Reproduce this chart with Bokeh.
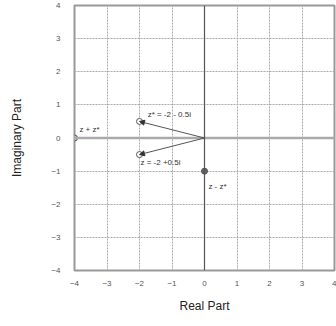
from bokeh.plotting import figure
from bokeh.models import Arrow, NormalHead, Span, ColumnDataSource, FixedTicker
from bokeh.core.properties import value
from bokeh.embed import file_html
from bokeh.resources import INLINE

# data
pt_x = [-2, -2, -4, 0]
pt_y = [0.5, -0.5, 0, -1]
pt_fill = ["white", "white", "#bbbbbb", "#666666"]
labels = ["z* = -2 - 0.5i", "z = -2 +0.5i", "z + z*", "z - z*"]
lab_x = [-1.75, -1.97, -3.85, 0.12]
lab_y = [0.72, -0.74, 0.25, -1.47]
arrow_ends = [(-2, 0.5), (-2, -0.5)]
ticks = [-4, -3, -2, -1, 0, 1, 2, 3, 4]

p = figure(frame_width=260, frame_height=265, x_range=(-4, 4), y_range=(-4, 4),
           output_backend="svg", toolbar_location=None,
           min_border_left=74, min_border_right=2, min_border_top=5, min_border_bottom=56,
           background_fill_color="white", border_fill_color="white")
p.outline_line_color = "#999999"
p.outline_line_width = 2

for ax in (p.xaxis, p.yaxis):
    ax.ticker = FixedTicker(ticks=ticks)
    ax.axis_line_color = None
    ax.major_tick_line_color = None
    ax.minor_tick_line_color = None
    ax.major_label_text_font = "Liberation Sans"
    ax.major_label_text_font_size = "8px"
    ax.major_label_text_color = "#555555"
    ax.axis_label_text_font = "Liberation Sans"
    ax.axis_label_text_font_size = "12px"
    ax.axis_label_text_font_style = "normal"
    ax.axis_label_text_color = "#222222"

p.xaxis.axis_label = "Real Part"
p.yaxis.axis_label = "Imaginary Part"
p.xaxis.major_label_standoff = 4
p.yaxis.major_label_standoff = 8
p.xaxis.axis_label_standoff = 10
p.yaxis.axis_label_standoff = 24

p.grid.grid_line_color = "#aaaaaa"
p.grid.grid_line_dash = "2 1"
p.grid.grid_line_width = 1

p.add_layout(Span(location=0, dimension="width", line_color="#aaaaaa", line_width=2.5))
p.add_layout(Span(location=0, dimension="height", line_color="#555555", line_width=1.2))

for (ex, ey) in arrow_ends:
    p.add_layout(Arrow(end=NormalHead(size=5, fill_color="#333333", line_color="#333333"),
                       x_start=0, y_start=0, x_end=ex, y_end=ey,
                       line_color="#555555", line_width=1))

src = ColumnDataSource(dict(x=pt_x, y=pt_y, fill=pt_fill))
p.scatter("x", "y", source=src, size=6, fill_color="fill", line_color="#555555", line_width=1)

lsrc = ColumnDataSource(dict(x=lab_x, y=lab_y, t=labels))
p.text("x", "y", text="t", source=lsrc, text_font=value("Liberation Sans"),
       text_font_size="8px", text_color="#333333", text_baseline="middle")

open("out.html", "w").write(file_html(p, INLINE))
